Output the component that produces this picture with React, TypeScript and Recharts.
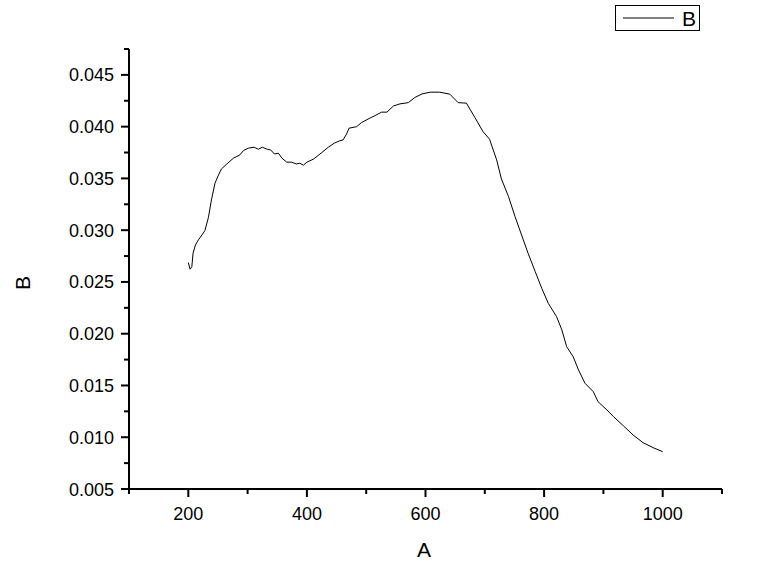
import React from 'react';
import { LineChart, Line, XAxis, YAxis, Label } from 'recharts';

const A_VALUES = [200, 203, 206, 208, 212, 217, 223, 228, 234, 239, 245, 251, 256, 265, 276, 287, 293, 301, 311, 318, 325, 333, 339, 345, 352, 358, 366, 374, 382, 388, 394, 400, 411, 425, 436, 446, 455, 461, 467, 471, 484, 492, 506, 515, 526, 535, 546, 557, 571, 582, 594, 608, 624, 641, 655, 669, 683, 697, 708, 720, 728, 740, 751, 762, 773, 785, 796, 807, 821, 830, 838, 849, 858, 869, 883, 891, 906, 917, 934, 950, 967, 984, 1000];
const B_VALUES = [0.02687, 0.02623, 0.02648, 0.02777, 0.02857, 0.02906, 0.02954, 0.02996, 0.03125, 0.03292, 0.03454, 0.03534, 0.03592, 0.0364, 0.03695, 0.03727, 0.03769, 0.03792, 0.03801, 0.03782, 0.03801, 0.03782, 0.03775, 0.03737, 0.03743, 0.03695, 0.03657, 0.03657, 0.0364, 0.03647, 0.03628, 0.03657, 0.03686, 0.03749, 0.03801, 0.0384, 0.03862, 0.03872, 0.0393, 0.03985, 0.04, 0.04039, 0.04082, 0.04107, 0.0414, 0.0414, 0.042, 0.0422, 0.04232, 0.04281, 0.04316, 0.04333, 0.04333, 0.04314, 0.04232, 0.04227, 0.04091, 0.03952, 0.03879, 0.03679, 0.03495, 0.03324, 0.03131, 0.02954, 0.02777, 0.026, 0.02439, 0.02294, 0.02165, 0.02036, 0.01875, 0.01778, 0.0165, 0.01521, 0.0144, 0.01343, 0.01263, 0.01199, 0.01109, 0.01022, 0.00947, 0.00899, 0.0086];

const X_TICKS = [100, 200, 300, 400, 500, 600, 700, 800, 900, 1000, 1100];
const Y_TICKS = [0.005, 0.0075, 0.01, 0.0125, 0.015, 0.0175, 0.02, 0.0225, 0.025, 0.0275, 0.03, 0.0325, 0.035, 0.0375, 0.04, 0.0425, 0.045, 0.0475];

const X_LABEL = 'A';
const Y_LABEL = 'B';
const SERIES_NAME = 'B';

const data = A_VALUES.map((a, i) => ({ A: a, B: B_VALUES[i] }));

const FONT = '"Liberation Sans", Arial, sans-serif';

const isMajorX = (v: number) => v % 200 === 0;
const isMajorY = (v: number) => Math.abs(v * 200 - Math.round(v * 200)) < 1e-6;

const XTick = (props: any) => {
  const { x, y, payload } = props;
  const major = isMajorX(payload.value);
  return (
    <g>
      <line x1={x} y1={y} x2={x} y2={y + (major ? 8 : 5)} stroke="#000" strokeWidth={2} />
      {major && (
        <text x={x} y={y + 31} textAnchor="middle" fontFamily={FONT} fontSize={18} fill="#000">
          {payload.value}
        </text>
      )}
    </g>
  );
};

const YTick = (props: any) => {
  const { x, y, payload } = props;
  const major = isMajorY(payload.value);
  return (
    <g>
      <line x1={x - (major ? 8 : 5)} y1={y} x2={x} y2={y} stroke="#000" strokeWidth={2} />
      {major && (
        <text x={x - 15} y={y + 6.5} textAnchor="end" fontFamily={FONT} fontSize={18} fill="#000">
          {payload.value.toFixed(3)}
        </text>
      )}
    </g>
  );
};

const LegendBox = () => (
  <div
    style={{
      position: 'absolute',
      left: 615,
      top: 5,
      border: '1px solid #000',
      width: 85,
      height: 26,
      boxSizing: 'border-box',
      background: '#fff',
    }}
  >
    <svg width={83} height={24} style={{ display: 'block' }}>
      <line x1={7} y1={12} x2={58} y2={12} stroke="#000" strokeWidth={1} />
      <text x={66} y={20} fontFamily={FONT} fontSize={21} fill="#000">{SERIES_NAME}</text>
    </svg>
  </div>
);

export default function App() {
  return (
    <div style={{ position: 'absolute', left: 0, top: 0, width: 765, height: 567, background: '#fff' }}>
      <LineChart width={765} height={567} data={data} margin={{ top: 49, right: 43, bottom: 18, left: 0 }}>
        <XAxis
          dataKey="A"
          type="number"
          domain={[100, 1100]}
          ticks={X_TICKS}
          interval={0}
          allowDataOverflow
          tickSize={0}
          tickMargin={0}
          tickLine={false}
          axisLine={{ stroke: '#000', strokeWidth: 2 }}
          tick={<XTick />}
          height={60}
        >
          <Label
            content={() => (
              <text x={424} y={557} textAnchor="middle" fontFamily={FONT} fontSize={21} fill="#000">
                {X_LABEL}
              </text>
            )}
          />
        </XAxis>
        <YAxis
          type="number"
          domain={[0.005, 0.0475]}
          ticks={Y_TICKS}
          interval={0}
          allowDataOverflow
          tickSize={0}
          tickMargin={0}
          tickLine={false}
          axisLine={{ stroke: '#000', strokeWidth: 2 }}
          tick={<YTick />}
          width={129}
        >
          <Label
            content={() => (
              <text
                x={30}
                y={283}
                textAnchor="middle"
                transform="rotate(-90 30 283)"
                fontFamily={FONT}
                fontSize={21}
                fill="#000"
              >
                {Y_LABEL}
              </text>
            )}
          />
        </YAxis>
        <Line
          type="linear"
          dataKey="B"
          name={SERIES_NAME}
          stroke="#000"
          strokeWidth={1}
          dot={false}
          isAnimationActive={false}
        />
      </LineChart>
      <LegendBox />
    </div>
  );
}
